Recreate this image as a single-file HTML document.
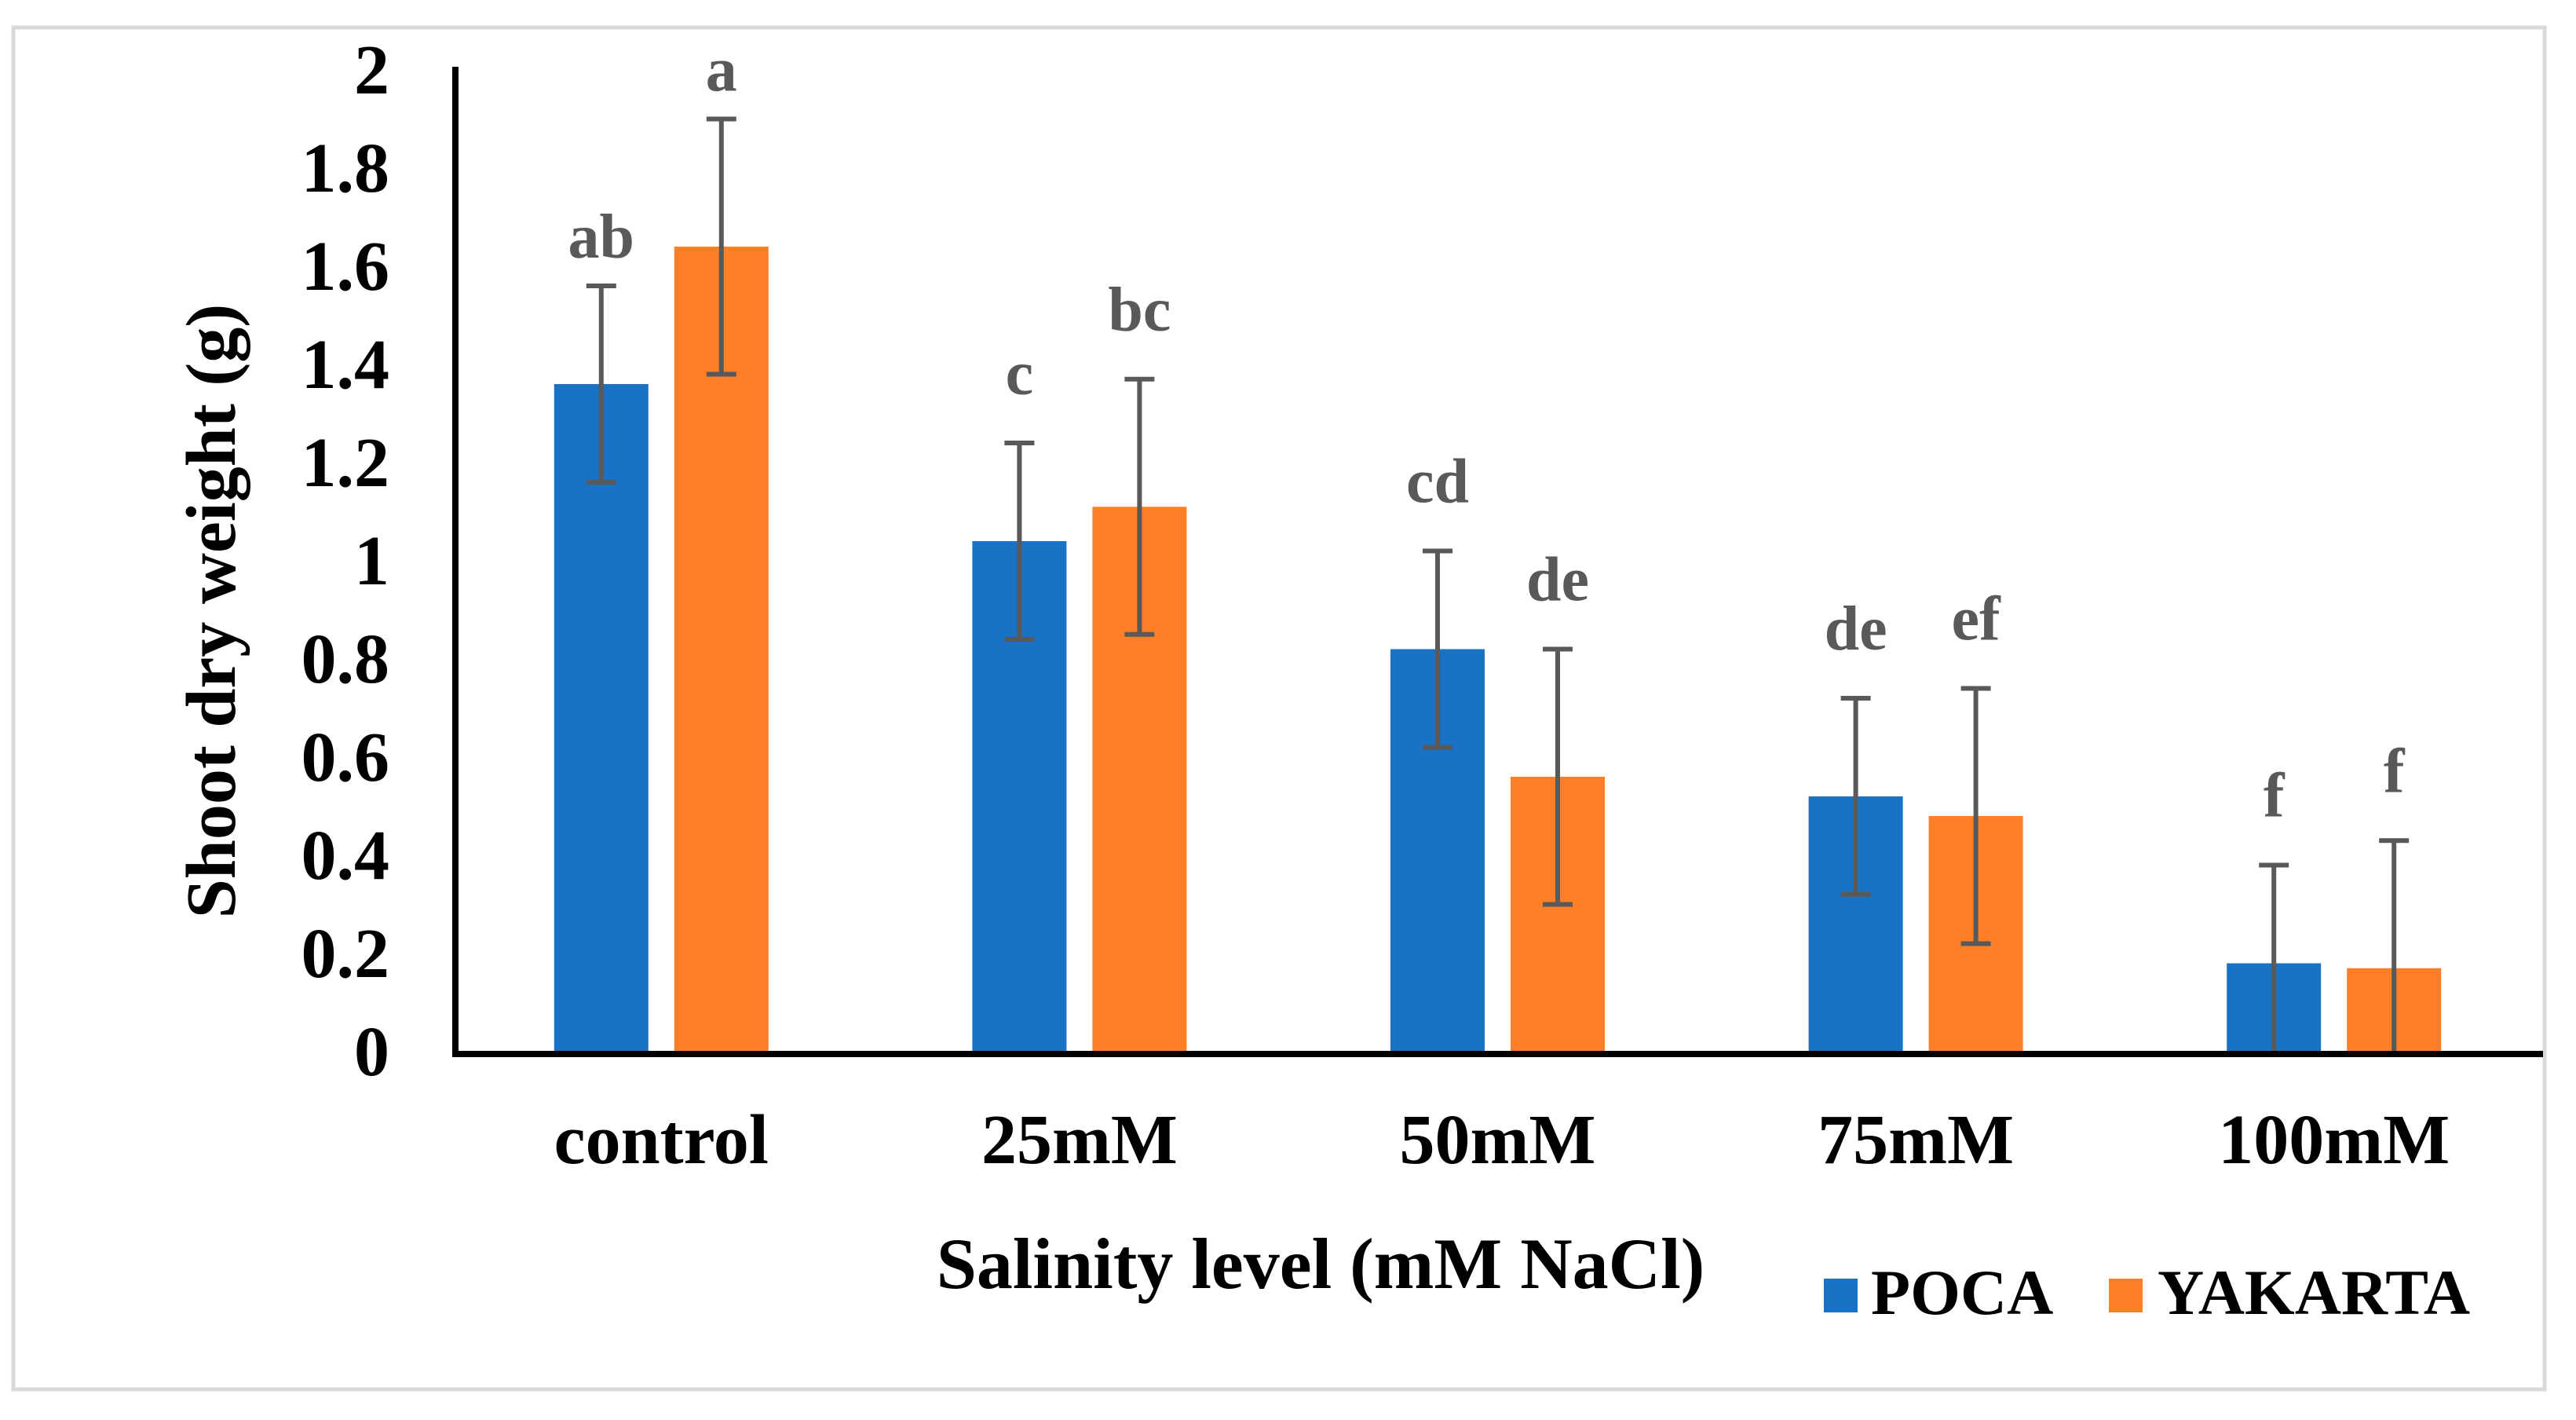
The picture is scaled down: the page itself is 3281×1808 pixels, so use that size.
<!DOCTYPE html>
<html><head><meta charset="utf-8"><style>
html,body{margin:0;padding:0;background:#fff;}
svg{display:block;font-family:"Liberation Serif",serif;font-weight:bold;}
</style></head><body>
<svg id="chart" width="3281" height="1808" viewBox="0 0 3281 1808" xmlns="http://www.w3.org/2000/svg">
<rect x="17" y="35" width="3224" height="1734" fill="#fff" stroke="#d9d9d9" stroke-width="5"/>
<g id="plot"></g>
</svg>
<script>
const categories = ["control","25mM","50mM","75mM","100mM"];
const pocaValues = [1.36,1.04,0.82,0.52,0.18];
const yakartaValues = [1.64,1.11,0.56,0.48,0.17];
const pocaErrors = [0.2,0.2,0.2,0.2,0.2];
const yakartaErrors = [0.26,0.26,0.26,0.26,0.26];
const pocaLetters = ["ab","c","cd","de","f"];
const yakartaLetters = ["a","bc","de","ef","f"];
const yTicks = [0,0.2,0.4,0.6,0.8,1,1.2,1.4,1.6,1.8,2];
const yTickLabels = ["0","0.2","0.4","0.6","0.8","1","1.2","1.4","1.6","1.8","2"];

const NS="http://www.w3.org/2000/svg";
const g=document.getElementById('plot');
const X0=576,X1=3239,Y0=1339,Y1=89,VMAX=2;
const y=v=>Y0-(v/VMAX)*(Y0-Y1);
const band=(X1-X0)/categories.length;
const xc=i=>X0+band*(i+0.5);
const BW=120,GAP=33;
function mk(t,a){const e=document.createElementNS(NS,t);for(const k in a)e.setAttribute(k,a[k]);g.appendChild(e);return e;}

yTicks.forEach((v,i)=>{
  const t=mk('text',{x:496,y:y(v)+30,'text-anchor':'end','font-size':90,fill:'#000'});
  t.textContent=yTickLabels[i];
  
  
});

function series(vals,errs,letters,color,off,name){
  vals.forEach((v,i)=>{
    const cx=xc(i)+off;
    const r=mk('rect',{x:cx-BW/2,y:y(v),width:BW,height:y(0)-y(v),fill:color});
    
    
    const hi=v+errs[i],lo=Math.max(0,v-errs[i]);
    const eg=mk('g',{stroke:'#595959','stroke-width':6});
    
    
    const l=document.createElementNS(NS,'line');
    l.setAttribute('x1',cx);l.setAttribute('x2',cx);l.setAttribute('y1',y(hi));l.setAttribute('y2',y(lo));eg.appendChild(l);
    const c1=document.createElementNS(NS,'line');
    c1.setAttribute('x1',cx-19);c1.setAttribute('x2',cx+19);c1.setAttribute('y1',y(hi));c1.setAttribute('y2',y(hi));eg.appendChild(c1);
    if(v-errs[i]>0){const c2=document.createElementNS(NS,'line');
    c2.setAttribute('x1',cx-19);c2.setAttribute('x2',cx+19);c2.setAttribute('y1',y(lo));c2.setAttribute('y2',y(lo));eg.appendChild(c2);}
    const t=mk('text',{x:cx,y:y(hi)-i===0?0:0,'text-anchor':'middle','font-size':80,fill:'#595959'});
    t.setAttribute('y',y(hi)-(i===0?36:62));
    t.textContent=letters[i];
    
    
  });
}
series(pocaValues,pocaErrors,pocaLetters,'#1972C6',-(BW+GAP)/2,'poca');
series(yakartaValues,yakartaErrors,yakartaLetters,'#FE7F26',(BW+GAP)/2,'yakarta');

const ya=mk('line',{x1:580,y1:85,x2:580,y2:1342,stroke:'#000','stroke-width':8});


const xa=mk('line',{x1:576,y1:1342,x2:3239,y2:1342,stroke:'#000','stroke-width':8});



categories.forEach((c,i)=>{
  const t=mk('text',{x:xc(i),y:1481,'text-anchor':'middle','font-size':90,fill:'#000'});
  t.textContent=c;
  
  
});

const xt=mk('text',{x:1682,y:1640,'text-anchor':'middle','font-size':92,fill:'#000'});
xt.textContent='Salinity level (mM NaCl)';


const yt=mk('text',{x:0,y:0,'text-anchor':'middle','font-size':90,fill:'#000',transform:'translate(299,778) rotate(-90)'});
yt.textContent='Shoot dry weight (g)';



const lp=mk('rect',{x:2323,y:1628,width:43,height:43,fill:'#1972C6'});


const lpt=mk('text',{x:2383,y:1673,'font-size':82,fill:'#000'});
lpt.textContent='POCA';


const ly=mk('rect',{x:2686,y:1628,width:43,height:43,fill:'#FE7F26'});


const lyt=mk('text',{x:2748,y:1673,'font-size':82,fill:'#000'});
lyt.textContent='YAKARTA';


</script>
</body></html>
